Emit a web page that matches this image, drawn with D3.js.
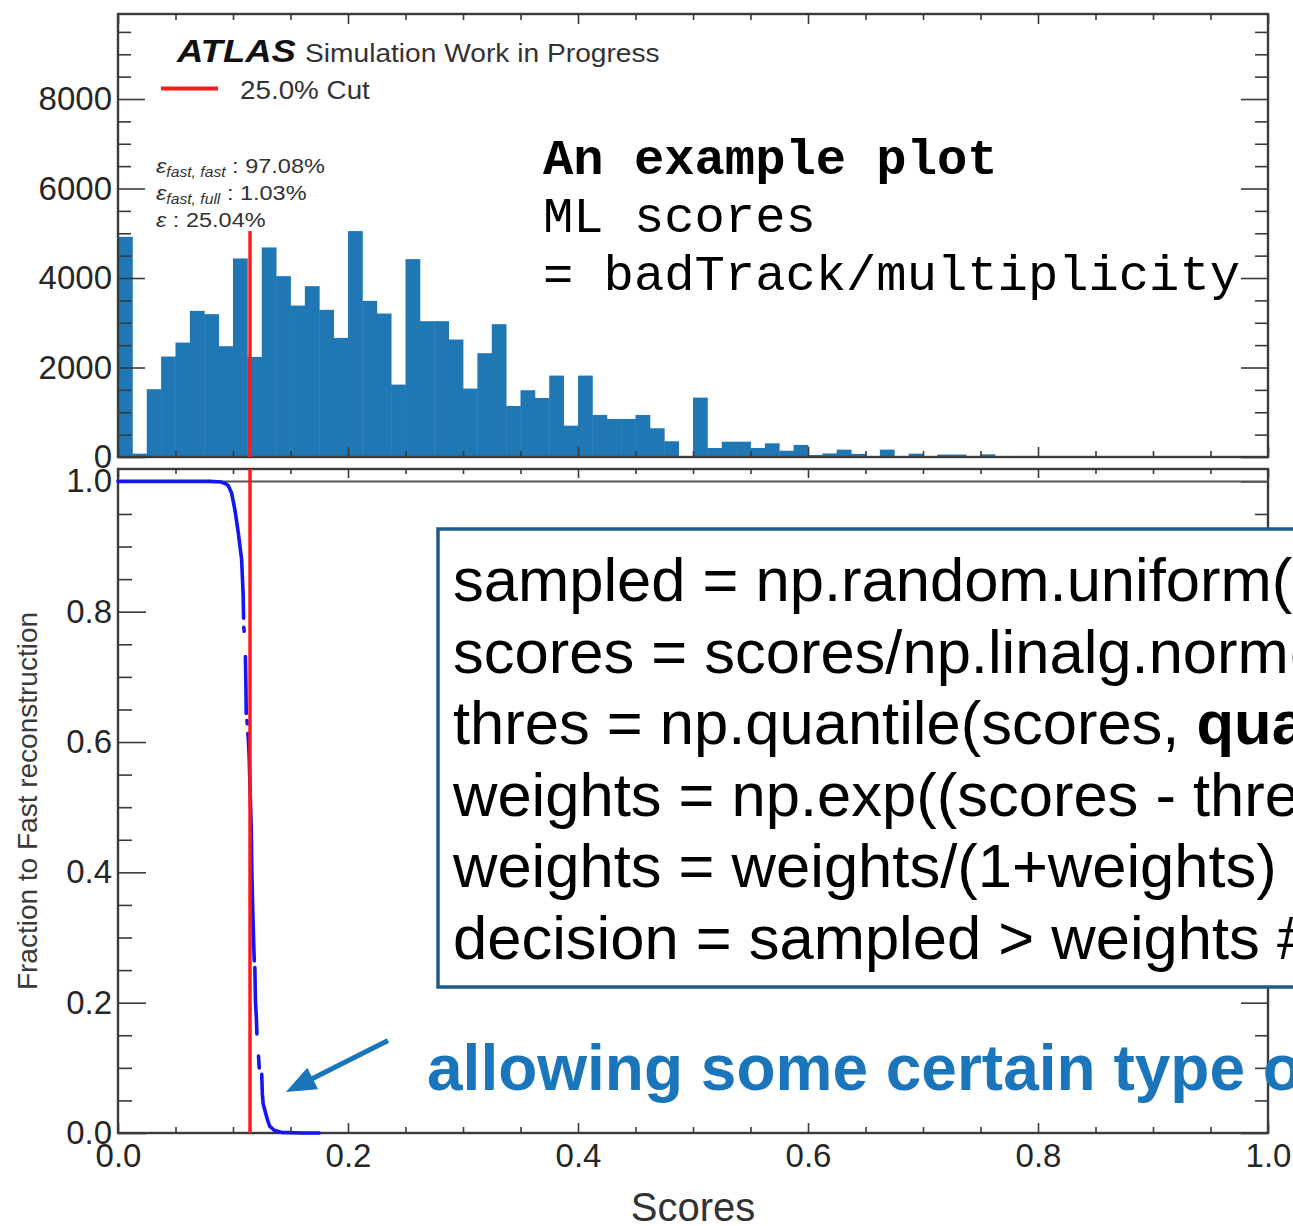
<!DOCTYPE html>
<html>
<head>
<meta charset="utf-8">
<script src="https://cdn.jsdelivr.net/npm/d3@7"></script>
<style>
  html, body { margin: 0; padding: 0; background: #ffffff; }
  svg { display: block; }
</style>
</head>
<body>
<svg id="chart" width="1293" height="1226"></svg>
<script>
// ---------------- data ----------------
// ML score histogram: 80 equal-width bins on [0, 1]
const binCount = 80;
const histCounts = [
  4920, 75, 1515, 2245, 2557, 3266, 3192, 2476, 4437, 2237,
  4683, 4042, 3385, 3818, 3289, 2662, 5049, 3490, 3206, 1618,
  4422, 3035, 3035, 2625, 1529, 2320, 2968, 1141, 1492, 1320,
  1819, 700, 1819, 940, 850, 850, 940, 642, 351, 0,
  1327, 201, 342, 342, 201, 306, 140, 270, 45, 80,
  165, 70, 5, 165, 0, 75, 0, 55, 55, 0,
  60, 0, 0, 0, 20, 0, 0, 0, 0, 0,
  0, 0, 0, 0, 0, 0, 0, 0, 0, 0
];

// Fraction sent to fast reconstruction vs score (null = break in the drawn curve)
const fracScores = [
  0.000, 0.040, 0.080, 0.090, 0.094, 0.096, 0.0988, 0.1017, 0.1046, 0.1075, 0.1088, 0.1092, null,
  0.1094, 0.1097, null,
  0.1108, 0.1112, 0.1115, null,
  0.1121, 0.1124, null,
  0.1129, 0.1132, 0.1140, 0.1150, 0.1158, 0.1165, 0.1172, 0.1180, 0.1185, null,
  0.1190, 0.1195, 0.1203, 0.1208, null,
  0.1222, 0.1228, null,
  0.1250, 0.1255, 0.1262, 0.1280, 0.1300, 0.1320, 0.1360, 0.1420, 0.1600, 0.1750
];
const fracValues = [
  1.000, 1.000, 1.000, 0.999, 0.996, 0.993, 0.982, 0.956, 0.921, 0.880, 0.828, 0.790, null,
  0.776, 0.770, null,
  0.731, 0.690, 0.644, null,
  0.633, 0.628, null,
  0.613, 0.608, 0.580, 0.520, 0.472, 0.392, 0.341, 0.290, 0.264, null,
  0.254, 0.203, 0.177, 0.152, null,
  0.118, 0.100, null,
  0.090, 0.060, 0.045, 0.033, 0.020, 0.010, 0.004, 0.001, 0.000, 0.000
];

const cutScore = 0.1148;          // 25% quantile threshold
const cutFraction = 0.25;
const countTicks = [0, 2000, 4000, 6000, 8000];
const scoreTicks = [0, 0.2, 0.4, 0.6, 0.8, 1.0];
const fractionTicks = [0, 0.2, 0.4, 0.6, 0.8, 1.0];
const efficiencyLabels = [
  ["fast, fast", "97.08%"],
  ["fast, full", "1.03%"],
  ["", "25.04%"]
];
const noteLines = ["An example plot", "ML scores", "= badTrack/multiplicity"];
const codeLines = [
  [["sampled = np.random.uniform(size=len(scores))", false]],
  [["scores = scores/np.linalg.norm(scores)", false]],
  [["thres = np.quantile(scores, ", false], ["quantile", true], [")", false]],
  [["weights = np.exp((scores - thres)*scale)", false]],
  [["weights = weights/(1+weights)", false]],
  [["decision = sampled > weights # fast", false]]
];
const annotationText = "allowing some certain type of errors";

// ---------------- layout ----------------
const svg = d3.select("#chart");
const sans = "'Liberation Sans', Arial, Helvetica, sans-serif";
const mono = "'Liberation Mono', 'Courier New', monospace";
const frameColor = "#3a3a3a";
const labelColor = "#262626";

const x = d3.scaleLinear().domain([0, 1]).range([118, 1268]);
const yTop = d3.scaleLinear().domain([0, 9900]).range([457, 14]);
const yBot = d3.scaleLinear().domain([0, 1.019]).range([1133, 469]);

const minorScore = d3.range(0, 1.0001, 0.05).map(v => +v.toFixed(2));
const minorCount = d3.range(0, 9901, 500);
const minorFrac = d3.range(0, 1.0001, 0.05).map(v => +v.toFixed(2));

function styleAxis(g) {
  g.select(".domain").remove();
  g.selectAll(".tick line").attr("stroke", frameColor).attr("stroke-width", 1.6);
  g.selectAll(".tick text")
    .attr("font-family", sans).attr("font-size", 33).attr("fill", labelColor);
}

// ---------------- top panel: histogram ----------------
const topPanel = svg.append("g");
topPanel.append("clipPath").attr("id", "clipTop")
  .append("rect").attr("x", x(0)).attr("y", yTop.range()[1])
  .attr("width", x(1) - x(0)).attr("height", yTop.range()[0] - yTop.range()[1]);

topPanel.append("g").attr("clip-path", "url(#clipTop)")
  .selectAll("rect").data(histCounts).join("rect")
  .attr("x", (d, i) => x(i / binCount))
  .attr("width", (d, i) => x((i + 1) / binCount) - x(i / binCount) + 0.4)
  .attr("y", d => yTop(d))
  .attr("height", d => yTop(0) - yTop(d))
  .attr("fill", "#1f77b4");

// y ticks, left (labelled) and right
topPanel.append("g").attr("transform", `translate(${x(0)},0)`)
  .call(d3.axisLeft(yTop).tickValues(minorCount.filter(v => v % 2000 !== 0)).tickSize(-13).tickFormat(""))
  .call(styleAxis);
topPanel.append("g").attr("transform", `translate(${x(0)},0)`)
  .call(d3.axisLeft(yTop).tickValues(countTicks).tickSize(-27).tickPadding(6).tickFormat(d3.format("d")))
  .call(styleAxis);
topPanel.append("g").attr("transform", `translate(${x(1)},0)`)
  .call(d3.axisRight(yTop).tickValues(minorCount.filter(v => v % 2000 !== 0)).tickSize(-13).tickFormat(""))
  .call(styleAxis);
topPanel.append("g").attr("transform", `translate(${x(1)},0)`)
  .call(d3.axisRight(yTop).tickValues(countTicks).tickSize(-27).tickFormat(""))
  .call(styleAxis);
// x ticks, bottom and top edges (no labels)
[[yTop(0), d3.axisBottom], [yTop.range()[1], d3.axisTop]].forEach(([yy, ax]) => {
  topPanel.append("g").attr("transform", `translate(0,${yy})`)
    .call(ax(x).tickValues(minorScore.filter(v => !scoreTicks.includes(v))).tickSize(-6).tickFormat(""))
    .call(styleAxis);
  topPanel.append("g").attr("transform", `translate(0,${yy})`)
    .call(ax(x).tickValues(scoreTicks).tickSize(-10).tickFormat(""))
    .call(styleAxis);
});

topPanel.append("rect")
  .attr("x", x(0)).attr("y", yTop.range()[1])
  .attr("width", x(1) - x(0)).attr("height", yTop(0) - yTop.range()[1])
  .attr("fill", "none").attr("stroke", frameColor).attr("stroke-width", 2.4);

// cut line up to the tallest bin
topPanel.append("line")
  .attr("x1", x(cutScore)).attr("x2", x(cutScore))
  .attr("y1", yTop(0)).attr("y2", yTop(d3.max(histCounts)))
  .attr("stroke", "#ff1a1a").attr("stroke-width", 3.5);

// ATLAS label, legend and efficiencies (drawn slightly wide, as the original TLatex font)
const legend = topPanel.append("g");
legend.append("g").attr("transform", "translate(177,62) scale(1.14,1)")
  .append("text").attr("font-family", sans).attr("font-weight", "bold").attr("font-style", "italic")
  .attr("font-size", 32).attr("fill", "#111").text("ATLAS");
legend.append("g").attr("transform", "translate(305,62) scale(1.083,1)")
  .append("text").attr("font-family", sans).attr("font-size", 26).attr("fill", "#333")
  .text("Simulation Work in Progress");
legend.append("line").attr("x1", 161).attr("x2", 218).attr("y1", 88.5).attr("y2", 88.5)
  .attr("stroke", "#ff1a1a").attr("stroke-width", 4);
legend.append("g").attr("transform", "translate(240,99) scale(1.07,1)")
  .append("text").attr("font-family", sans).attr("font-size", 26).attr("fill", "#333")
  .text(`${(cutFraction * 100).toFixed(1)}% Cut`);

efficiencyLabels.forEach(([sub, val], i) => {
  const t = legend.append("g").attr("transform", `translate(156,${173 + i * 27}) scale(1.12,1)`)
    .append("text").attr("font-family", sans).attr("font-size", 21).attr("fill", "#333");
  t.append("tspan").attr("font-style", "italic").text("\u03B5");
  if (sub) {
    t.append("tspan").attr("font-style", "italic").attr("font-size", 14).attr("dy", 4).text(sub);
    t.append("tspan").attr("dy", -4).text(" : " + val);
  } else {
    t.append("tspan").text(" : " + val);
  }
});

// monospace note in the upper right
const note = topPanel.append("g");
noteLines.forEach((s, i) => {
  note.append("text")
    .attr("x", 543).attr("y", 174 + i * 58)
    .attr("font-family", mono).attr("font-size", 50.5)
    .attr("font-weight", i === 0 ? "bold" : "normal")
    .attr("fill", "#000")
    .attr("xml:space", "preserve")
    .text(s);
});

// ---------------- bottom panel: fraction to fast reconstruction ----------------
const bot = svg.append("g");

bot.append("g").attr("transform", `translate(${x(0)},0)`)
  .call(d3.axisLeft(yBot).tickValues(minorFrac.filter(v => !fractionTicks.includes(v))).tickSize(-14).tickFormat(""))
  .call(styleAxis);
bot.append("g").attr("transform", `translate(${x(0)},0)`)
  .call(d3.axisLeft(yBot).tickValues(fractionTicks).tickSize(-28).tickPadding(6).tickFormat(d3.format(".1f")))
  .call(styleAxis);
bot.append("g").attr("transform", `translate(${x(1)},0)`)
  .call(d3.axisRight(yBot).tickValues(minorFrac.filter(v => !fractionTicks.includes(v))).tickSize(-13).tickFormat(""))
  .call(styleAxis);
bot.append("g").attr("transform", `translate(${x(1)},0)`)
  .call(d3.axisRight(yBot).tickValues(fractionTicks).tickSize(-27).tickFormat(""))
  .call(styleAxis);

bot.append("g").attr("transform", `translate(0,${yBot(0)})`)
  .call(d3.axisBottom(x).tickValues(minorScore.filter(v => !scoreTicks.includes(v))).tickSize(-6).tickFormat(""))
  .call(styleAxis);
bot.append("g").attr("transform", `translate(0,${yBot(0)})`)
  .call(d3.axisBottom(x).tickValues(scoreTicks).tickSize(-10).tickPadding(11).tickFormat(d3.format(".1f")))
  .call(styleAxis);
bot.append("g").attr("transform", `translate(0,${yBot.range()[1]})`)
  .call(d3.axisTop(x).tickValues(minorScore.filter(v => !scoreTicks.includes(v))).tickSize(-5).tickFormat(""))
  .call(styleAxis);
bot.append("g").attr("transform", `translate(0,${yBot.range()[1]})`)
  .call(d3.axisTop(x).tickValues(scoreTicks).tickSize(-9).tickFormat(""))
  .call(styleAxis);

bot.append("rect")
  .attr("x", x(0)).attr("y", yBot.range()[1])
  .attr("width", x(1) - x(0)).attr("height", yBot(0) - yBot.range()[1])
  .attr("fill", "none").attr("stroke", frameColor).attr("stroke-width", 2.4);

// reference line at fraction = 1
bot.append("line")
  .attr("x1", x(0)).attr("x2", x(1)).attr("y1", yBot(1)).attr("y2", yBot(1))
  .attr("stroke", "#555").attr("stroke-width", 2);

// the curve
const curvePts = fracScores.map((s, i) => (s === null ? null : [s, fracValues[i]]));
const curveLine = d3.line().defined(d => d !== null).x(d => x(d[0])).y(d => yBot(d[1]));
bot.append("path")
  .attr("d", curveLine(curvePts))
  .attr("fill", "none").attr("stroke", "#1414f5").attr("stroke-width", 3.6)
  .attr("stroke-linecap", "round").attr("stroke-linejoin", "round");

bot.append("line")
  .attr("x1", x(cutScore)).attr("x2", x(cutScore))
  .attr("y1", yBot(0)).attr("y2", yBot.range()[1])
  .attr("stroke", "#ff1a1a").attr("stroke-width", 3.5);

// axis titles
svg.append("text")
  .attr("transform", `translate(37,${(yBot(0) + yBot.range()[1]) / 2}) rotate(-90)`)
  .attr("text-anchor", "middle")
  .attr("font-family", sans).attr("font-size", 28).attr("fill", "#3a3a3a")
  .text("Fraction to Fast reconstruction");
svg.append("text")
  .attr("x", (x(0) + x(1)) / 2).attr("y", 1221)
  .attr("text-anchor", "middle")
  .attr("font-family", sans).attr("font-size", 40).attr("fill", "#333")
  .text("Scores");

// code box
const box = svg.append("g");
box.append("rect")
  .attr("x", 438).attr("y", 529).attr("width", 900).attr("height", 458)
  .attr("fill", "#ffffff").attr("stroke", "#1d5a8b").attr("stroke-width", 3.5);
codeLines.forEach((parts, i) => {
  const t = box.append("text")
    .attr("x", 453).attr("y", 601 + i * 71.5)
    .attr("font-family", sans).attr("font-size", 61.5).attr("fill", "#000")
    .attr("xml:space", "preserve");
  parts.forEach(([s, b]) => t.append("tspan").attr("font-weight", b ? "bold" : "normal").text(s));
});

// annotation arrow pointing at the tail of the curve
const tail = [x(0.2348), yBot(0.142)];
const tip = [x(0.146), yBot(0.063)];
const dx = tip[0] - tail[0], dy = tip[1] - tail[1];
const len = Math.hypot(dx, dy);
const ux = dx / len, uy = dy / len;
const headLen = 30, headHalf = 12;
const base = [tip[0] - ux * headLen, tip[1] - uy * headLen];
const arrow = svg.append("g");
arrow.append("line")
  .attr("x1", tail[0]).attr("y1", tail[1])
  .attr("x2", base[0] + ux * 4).attr("y2", base[1] + uy * 4)
  .attr("stroke", "#1b75bb").attr("stroke-width", 5);
arrow.append("path")
  .attr("d", d3.line()([
    tip,
    [base[0] - uy * headHalf, base[1] + ux * headHalf],
    [base[0] + uy * headHalf, base[1] - ux * headHalf]
  ]) + "Z")
  .attr("fill", "#1b75bb");
svg.append("text")
  .attr("x", 427).attr("y", 1090)
  .attr("font-family", sans).attr("font-weight", "bold").attr("font-size", 64)
  .attr("fill", "#1b75bb")
  .text(annotationText);
</script>
</body>
</html>
